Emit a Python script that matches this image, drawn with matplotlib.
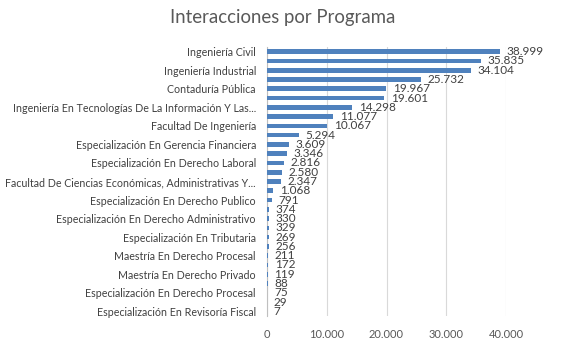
import matplotlib
matplotlib.use("Agg")
import matplotlib.pyplot as plt
from matplotlib.ticker import FuncFormatter

title = "Interacciones por Programa"
categories = [
    "Ingeniería Civil", "", "Ingeniería Industrial", "", "Contaduría Pública", "",
    "Ingeniería En Tecnologías De La Información Y Las...", "", "Facultad De Ingeniería", "",
    "Especialización En Gerencia Financiera", "", "Especialización En Derecho Laboral", "",
    "Facultad De Ciencias Económicas, Administrativas Y...", "", "Especialización En Derecho Publico", "",
    "Especialización En Derecho Administrativo", "", "Especialización En Tributaria", "",
    "Maestría En Derecho Procesal", "", "Maestría En Derecho Privado", "",
    "Especialización En Derecho Procesal", "", "Especialización En Revisoría Fiscal",
]
values = [38999, 35835, 34104, 25732, 19967, 19601, 14298, 11077, 10067, 5294,
          3609, 3346, 2816, 2580, 2347, 1068, 791, 374, 330, 329, 269, 256, 211,
          172, 119, 88, 75, 29, 7]
xticks = [0, 10000, 20000, 30000, 40000]

def fmt(v):
    return f"{int(v):,}".replace(",", ".")

plt.rcParams['font.family'] = ['Lato', 'DejaVu Sans']
fig = plt.figure(figsize=(5.65, 3.39), dpi=100)
ax = fig.add_axes([267/565, 1-316/339, (506-267)/565, (316-47)/339])

n = len(values)
ys = list(range(n))
ax.barh(ys, values, height=0.5, color="#4F81BD", zorder=3)
ax.set_ylim(n - 0.5, -0.5)
ax.set_xlim(0, 40000)
ax.set_xticks(xticks)
ax.xaxis.set_major_formatter(FuncFormatter(lambda v, p: fmt(v)))
ax.grid(axis="x", color="#D9D9D9", linewidth=0.8, zorder=0)
ax.tick_params(axis="x", length=0, labelsize=8, colors="#595959", pad=9)

label_pos = [i for i, c in enumerate(categories) if c]
ax.set_yticks(label_pos)
ax.set_yticklabels([categories[i] for i in label_pos])
ax.tick_params(axis="y", length=0, labelsize=7.7, colors="#404040", pad=8)

for s in ["top", "right", "bottom"]:
    ax.spines[s].set_visible(False)
ax.spines["left"].set_color("#BFBFBF")
ax.spines["left"].set_linewidth(0.8)

for y, v in zip(ys, values):
    ax.text(v + 1100, y, fmt(v), va="center", ha="left", fontsize=8.5, color="#404040", zorder=4)

fig.text(0.5, 1-18/339, title, ha="center", va="center", fontsize=13.4, color="#595959")

fig.savefig("out.png", dpi=100)
